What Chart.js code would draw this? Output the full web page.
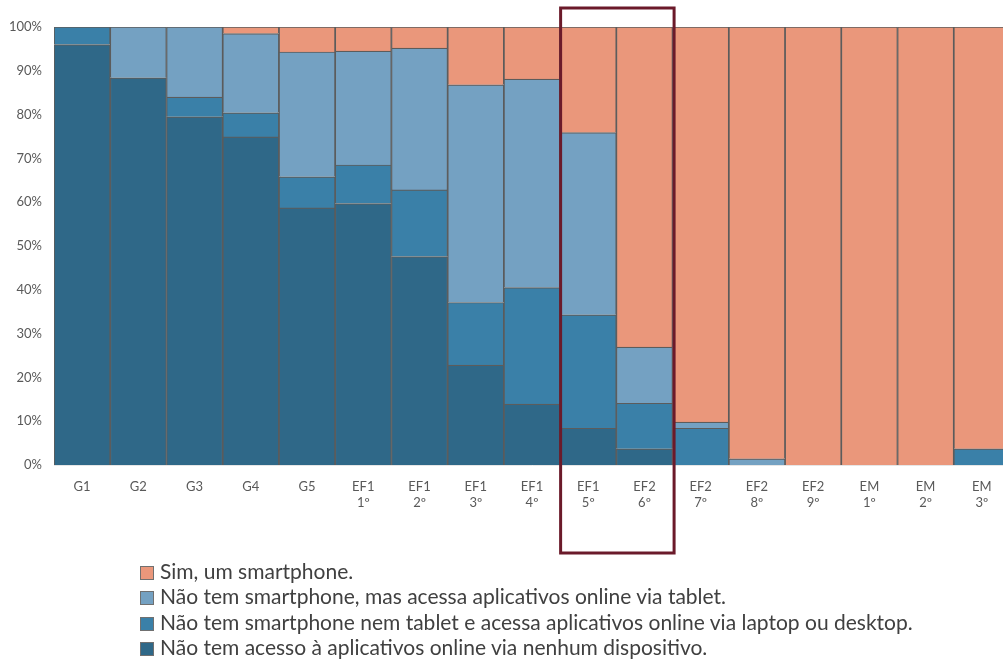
<!DOCTYPE html>
<html>
<head>
<meta charset="utf-8">
<script src="https://cdn.jsdelivr.net/npm/chart.js@4"></script>
<style>
    html, body { margin: 0; padding: 0; background: #fff; overflow: hidden; }
    #chart-container { position: relative; width: 1010px; height: 659px; }
    #legend { position: absolute; left: 140px; top: 558px; font-family: Lato, sans-serif; font-size: 21px; color: #404040; }
    #legend div { height: 25.3px; line-height: 25.3px; white-space: nowrap; }
    #legend span { display: inline-block; width: 12px; height: 12px; border: 1px solid #707070; margin-right: 6px; vertical-align: -1px; }
</style>
</head>
<body>
<div id="chart-container">
    <canvas id="myChart" width="1010" height="659"></canvas>
    <div id="legend"></div>
</div>
<script>
const labels = [
    "G1", "G2", "G3", "G4", "G5",
    ["EF1", "1º"], ["EF1", "2º"], ["EF1", "3º"], ["EF1", "4º"], ["EF1", "5º"],
    ["EF2", "6º"], ["EF2", "7º"], ["EF2", "8º"], ["EF2", "9º"],
    ["EM", "1º"], ["EM", "2º"], ["EM", "3º"],
];

// % por série, de baixo para cima na pilha
const semAcesso = [96, 88.4, 79.5, 74.9, 58.7, 59.7, 47.6, 22.8, 13.9, 8.4, 3.7, 0, 0, 0, 0, 0, 0];
const viaComputador = [4, 0, 4.5, 5.5, 7.1, 8.8, 15.2, 14.3, 26.6, 25.9, 10.4, 8.4, 0, 0, 0, 0, 3.7];
const viaTablet = [0, 11.6, 16, 18.1, 28.5, 26, 32.4, 49.7, 47.6, 41.6, 12.8, 1.4, 1.4, 0, 0, 0, 0];
const smartphone = [0, 0, 0, 1.5, 5.7, 5.5, 4.8, 13.2, 11.9, 24.1, 73.1, 90.2, 98.6, 100, 100, 100, 96.3];

const yTicks = [0, 10, 20, 30, 40, 50, 60, 70, 80, 90, 100];

// grupos destacados pela moldura
const destaque = [9, 10];

const series = [
    { label: "Não tem acesso à aplicativos online via nenhum dispositivo.", data: semAcesso, color: "#2f6888" },
    { label: "Não tem smartphone nem tablet e acessa aplicativos online via laptop ou desktop.", data: viaComputador, color: "#3a80a8" },
    { label: "Não tem smartphone, mas acessa aplicativos online via tablet.", data: viaTablet, color: "#74a1c2" },
    { label: "Sim, um smartphone.", data: smartphone, color: "#ea977b" },
];

const molduraPlugin = {
    id: "moldura",
    afterDraw(chart) {
        const x = chart.scales.x;
        const area = chart.chartArea;
        const a = destaque[0], b = destaque[destaque.length - 1];
        const left = (x.getPixelForValue(a) + x.getPixelForValue(a - 1)) / 2;
        const right = (x.getPixelForValue(b) + x.getPixelForValue(b + 1)) / 2;
        const ctx = chart.ctx;
        ctx.save();
        ctx.strokeStyle = "#6b1a2a";
        ctx.lineWidth = 3;
        ctx.strokeRect(left + 0.5, area.top - 19, right - left + 1, area.bottom - area.top + 107);
        ctx.restore();
    },
};

const drawChart = () => {
    const data = {
        labels: labels,
        datasets: series.map((s) => ({
            label: s.label,
            data: s.data,
            backgroundColor: s.color,
            borderColor: "#5c5c5c",
            borderWidth: 1.2,
            barPercentage: 1,
            categoryPercentage: 1,
        })),
    };
    const config = {
        type: "bar",
        data: data,
        options: {
            responsive: false,
            animation: false,
            layout: { padding: { top: 27, right: 0, bottom: 139, left: 0 } },
            plugins: { legend: { display: false }, tooltip: { enabled: false } },
            scales: {
                x: {
                    stacked: true,
                    grid: { display: false },
                    border: { display: true, color: "#e6e6e6", width: 1 },
                    ticks: { color: "#595959", font: { family: "Lato", size: 13 }, padding: 6, maxRotation: 0, autoSkip: false },
                    afterFit: (scale) => { scale.height = 55; },
                },
                y: {
                    stacked: true,
                    min: 0,
                    max: 100,
                    afterBuildTicks: (scale) => { scale.ticks = yTicks.map((v) => ({ value: v })); },
                    grid: { display: false },
                    border: { display: false },
                    ticks: { color: "#595959", font: { family: "Lato", size: 13 }, padding: 4, callback: (v) => v + "%" },
                    afterFit: (scale) => { scale.width = 54; },
                },
            },
        },
        plugins: [molduraPlugin],
    };
    new Chart(document.getElementById("myChart"), config);
};

const drawLegend = () => {
    const legend = document.getElementById("legend");
    series.slice().reverse().forEach((s) => {
        const row = document.createElement("div");
        const box = document.createElement("span");
        box.style.background = s.color;
        row.appendChild(box);
        row.appendChild(document.createTextNode(s.label));
        legend.appendChild(row);
    });
};

drawChart();
drawLegend();
</script>
</body>
</html>
